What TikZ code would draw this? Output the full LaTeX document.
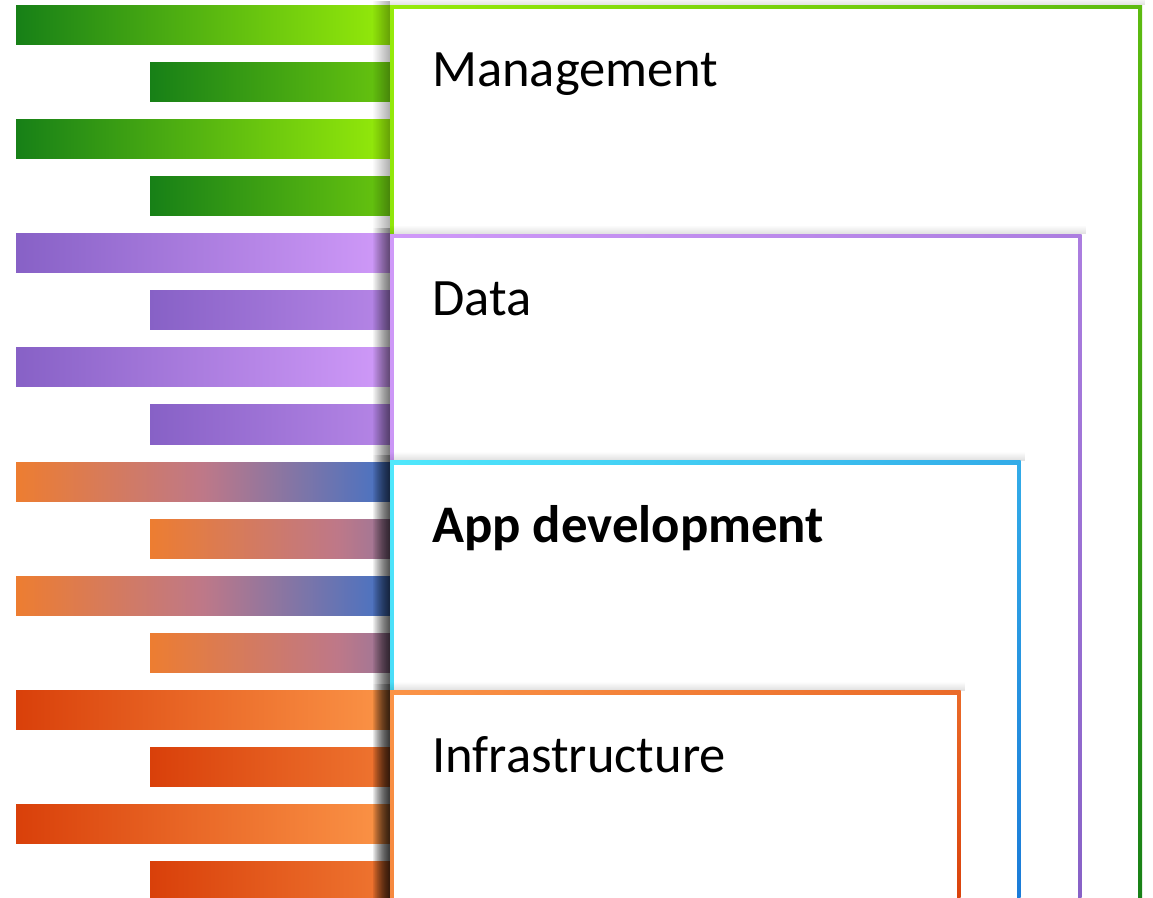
\documentclass[tikz,border=0pt]{standalone}
\usepackage{fontspec}
\setmainfont{Carlito}
\usetikzlibrary{fadings,shadings}

\definecolor{mgtdark}{HTML}{178017}
\definecolor{mgtlight}{HTML}{96EB0A}
\definecolor{datadark}{HTML}{8761C6}
\definecolor{datalight}{HTML}{D09AF9}
\definecolor{apporange}{HTML}{ED7D31}
\definecolor{appmid}{HTML}{BE7888}
\definecolor{appblue}{HTML}{4472C4}
\definecolor{appcyan}{HTML}{50E8FC}
\definecolor{appdeep}{HTML}{1A7AD8}
\definecolor{infdark}{HTML}{D9400A}
\definecolor{inflight}{HTML}{FB9447}

\begin{document}
\begin{tikzpicture}[x=0.75pt,y=-0.75pt,
  layertext/.style={anchor=base west,inner sep=0pt,text=black,font=\fontsize{39.4}{47}\selectfont},
  greenbar/.style={left color=mgtdark,right color=mgtlight},
  purplebar/.style={left color=datadark,right color=datalight},
  mixbar/.style={left color=apporange,right color=appblue,middle color=appmid},
  redbar/.style={left color=infdark,right color=inflight},
  sideshadow/.style={black,opacity=0.32,path fading=west},
  topshadow/.style={black,opacity=0.13,path fading=north}]
\useasboundingbox (0,0) rectangle (1153,898);
\fill[white] (0,0) rectangle (1153,898);
\clip (0,0) rectangle (1153,898);

%bars
\shade[greenbar] (16,6) rectangle (390,45);
\shade[greenbar] (150,63) rectangle (524,102);
\shade[greenbar] (16,120) rectangle (390,159);
\shade[greenbar] (150,177) rectangle (524,216);

\shade[purplebar] (16,234) rectangle (390,273);
\shade[purplebar] (150,291) rectangle (524,330);
\shade[purplebar] (16,348) rectangle (390,387);
\shade[purplebar] (150,405) rectangle (524,444);

\shade[mixbar] (16,462) rectangle (390,501);
\shade[mixbar] (150,519) rectangle (524,558);
\shade[mixbar] (16,576) rectangle (390,615);
\shade[mixbar] (150,633) rectangle (524,672);

\shade[redbar] (16,690) rectangle (390,729);
\shade[redbar] (150,747) rectangle (524,786);
\shade[redbar] (16,804) rectangle (390,843);
\shade[redbar] (150,861) rectangle (524,900);

%Management
\fill[sideshadow] (372,0) rectangle (390,910);
\fill[topshadow] (390,-3) rectangle (1146,5.5);
\shade[upper left=mgtlight,lower right=mgtdark,upper right={mgtlight!55!mgtdark},lower left={mgtlight!80!mgtdark}] (390,5.5) rectangle (1142,910);
\fill[white] (394,9.5) rectangle (1138,910);
\node[layertext] (mgt) at (432,87) {Management};

%Data
\fill[sideshadow] (372,228) rectangle (390,910);
\fill[topshadow] (390,225) rectangle (1086,234.3);
\shade[upper left=datalight,lower right=datadark,upper right={datalight!50!datadark},lower left={datalight!80!datadark}] (390,234.3) rectangle (1081.7,910);
\fill[white] (394,238.3) rectangle (1077.7,910);
\node[layertext] (data) at (432,316) {Data};

%App development
\fill[sideshadow] (372,455) rectangle (390,910);
\fill[topshadow] (390,451.5) rectangle (1025,460.7);
\shade[upper left=appcyan,lower right=appdeep,upper right={appcyan!45!appdeep},lower left={appcyan!80!appdeep}] (390,460.7) rectangle (1020.7,910);
\fill[white] (394,464.7) rectangle (1016.7,910);
\node[layertext,font=\fontsize{39.6}{47}\selectfont\bfseries] (app) at (432,542) {App development};

%Infrastructure
\fill[sideshadow] (372,684) rectangle (390,910);
\fill[topshadow] (390,681.5) rectangle (965,690.7);
\shade[upper left=inflight,lower right=infdark,upper right={inflight!50!infdark},lower left={inflight!85!infdark}] (390,690.7) rectangle (960.7,910);
\fill[white] (394,694.7) rectangle (956.7,910);
\node[layertext] (infra) at (432,772) {Infrastructure};

\end{tikzpicture}
\end{document}
